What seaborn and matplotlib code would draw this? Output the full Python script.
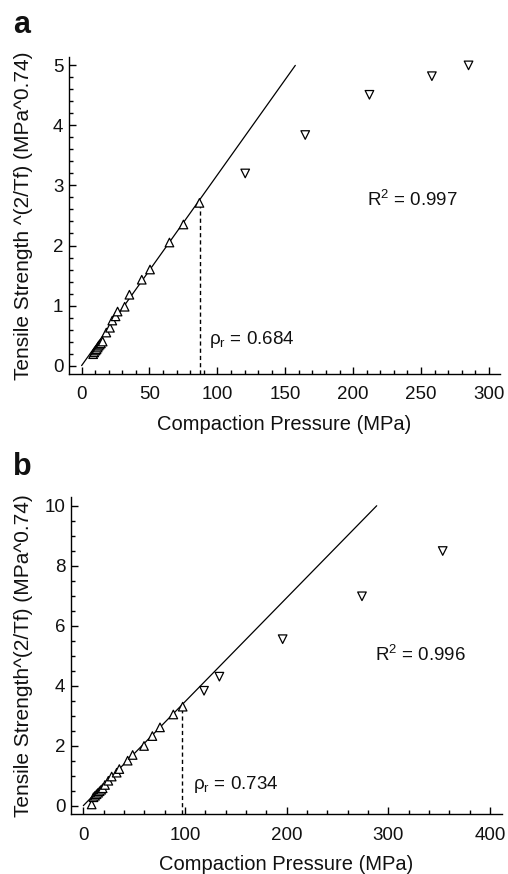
import numpy as np
import pandas as pd
import matplotlib
matplotlib.use("Agg")
import matplotlib.pyplot as plt
from matplotlib.ticker import MultipleLocator
import seaborn as sns

# ---------------- data ----------------
# Panel a
a_up_x = [8.5, 9.3, 10.2, 11.0, 11.8, 12.5, 13.3, 14.2, 15.5, 18.2, 20.9, 22.6, 25.0, 26.5, 31.7, 35.2, 44.3, 50.4, 64.7, 75.0, 86.8]
a_up_y = [0.19, 0.22, 0.25, 0.27, 0.30, 0.33, 0.35, 0.37, 0.40, 0.55, 0.63, 0.75, 0.82, 0.90, 0.98, 1.18, 1.43, 1.60, 2.05, 2.35, 2.71]
a_dn_x = [120.5, 164.7, 212.0, 258.0, 285.0]
a_dn_y = [3.20, 3.84, 4.51, 4.82, 5.00]
a_fit_x = [0.0, 157.4]
a_fit_y = [0.0, 5.0]
a_pr_x = 87.3
a_pr_y = 2.68
a_pr_label = r"$\mathregular{\rho_r}$ = 0.684"
a_r2_label = r"$\mathregular{R^2}$ = 0.997"

# Panel b
b_up_x = [8.2, 10.0, 11.5, 13.0, 14.5, 16.0, 17.5, 19.0, 21.3, 24.6, 27.9, 32.8, 35.4, 43.6, 48.5, 59.7, 67.9, 75.4, 88.5, 97.7]
b_up_y = [0.04, 0.28, 0.33, 0.38, 0.43, 0.48, 0.53, 0.58, 0.69, 0.83, 0.97, 1.10, 1.22, 1.50, 1.69, 1.99, 2.32, 2.61, 3.04, 3.30]
b_dn_x = [118.7, 133.8, 196.0, 274.0, 353.4]
b_dn_y = [3.83, 4.30, 5.55, 6.98, 8.49]
b_fit_x = [0.0, 288.5]
b_fit_y = [0.0, 10.0]
b_pr_x = 96.7
b_pr_y = 3.19
b_pr_label = r"$\mathregular{\rho_r}$ = 0.734"
b_r2_label = r"$\mathregular{R^2}$ = 0.996"

xlabel = "Compaction Pressure (MPa)"
a_ylabel = "Tensile Strength ^(2/Tf) (MPa^0.74)"
b_ylabel = "Tensile Strength^(2/Tf) (MPa^0.74)"

# ---------------- style ----------------
sns.set_style("ticks")
plt.rcParams["font.family"] = ["Liberation Sans", "DejaVu Sans"]
plt.rcParams["mathtext.fontset"] = "custom"
plt.rcParams["mathtext.rm"] = "Liberation Sans"
plt.rcParams["mathtext.it"] = "Liberation Sans:italic"
plt.rcParams["axes.linewidth"] = 1.0
plt.rcParams["axes.edgecolor"] = "black"
plt.rcParams["axes.labelcolor"] = "#111111"
plt.rcParams["text.color"] = "#111111"
plt.rcParams["xtick.color"] = "black"
plt.rcParams["ytick.color"] = "black"
plt.rcParams["xtick.labelcolor"] = "#111111"
plt.rcParams["ytick.labelcolor"] = "#111111"
plt.rcParams["xtick.direction"] = "in"
plt.rcParams["ytick.direction"] = "in"

fig = plt.figure(figsize=(5.08, 8.74), dpi=100)
ax_a = fig.add_axes([0.1358, 0.5721, 0.848, 0.3627])
ax_b = fig.add_axes([0.1398, 0.0686, 0.848, 0.3627])


def draw(ax, up_x, up_y, dn_x, dn_y, fit_x, fit_y, pr_x, pr_y, pr_label, pr_pos,
         r2_label, r2_pos, xlim, ylim, xmaj, xmin, ymaj, ymin, ylabel, ylab_x):
    df = pd.DataFrame({
        "x": list(up_x) + list(dn_x),
        "y": list(up_y) + list(dn_y),
        "kind": ["up"] * len(up_x) + ["down"] * len(dn_x),
    })
    sns.lineplot(x=fit_x, y=fit_y, ax=ax, color="black", linewidth=0.9)
    sns.scatterplot(data=df, x="x", y="y", style="kind",
                    markers={"up": "^", "down": "v"}, s=38,
                    facecolor="white", edgecolor="black", linewidth=0.9,
                    ax=ax, legend=False, zorder=3)
    ax.vlines(pr_x, ylim[0], pr_y, colors="black", linestyles=(0, (3, 2.2)), linewidth=1.0)
    ax.text(pr_pos[0], pr_pos[1], pr_label, fontsize=13.5, va="center", ha="left")
    ax.text(r2_pos[0], r2_pos[1], r2_label, fontsize=13.5, va="center", ha="left")
    ax.set_xlim(*xlim)
    ax.set_ylim(*ylim)
    ax.xaxis.set_major_locator(MultipleLocator(xmaj))
    ax.xaxis.set_minor_locator(MultipleLocator(xmin))
    ax.yaxis.set_major_locator(MultipleLocator(ymaj))
    ax.yaxis.set_minor_locator(MultipleLocator(ymin))
    ax.tick_params(which="major", length=5, width=1, labelsize=13.5)
    ax.tick_params(axis="x", which="major", pad=9)
    ax.tick_params(axis="y", which="major", pad=4)
    ax.tick_params(which="minor", length=3, width=1, bottom=True, left=True)
    for s in ("top", "right"):
        ax.spines[s].set_visible(False)
    ax.set_xlabel(xlabel, fontsize=14.5, labelpad=8)
    ax.set_ylabel(ylabel, fontsize=15)
    ax.yaxis.set_label_coords(ylab_x, 0.5)


draw(ax_a, a_up_x, a_up_y, a_dn_x, a_dn_y, a_fit_x, a_fit_y, a_pr_x, a_pr_y,
     a_pr_label, (94.0, 0.43), a_r2_label, (210.0, 2.76),
     (-9.3, 308.0), (-0.14, 5.14), 50, 10, 1, 0.2, a_ylabel, -0.083)
draw(ax_b, b_up_x, b_up_y, b_dn_x, b_dn_y, b_fit_x, b_fit_y, b_pr_x, b_pr_y,
     b_pr_label, (107.5, 0.69), b_r2_label, (287.0, 5.02),
     (-12.1, 411.5), (-0.28, 10.29), 100, 20, 2, 0.5, b_ylabel, -0.088)

fig.text(13 / 508, 1 - 33 / 874, "a", fontsize=22, fontweight="bold", va="baseline", ha="left")
fig.text(13 / 508, 1 - 475 / 874, "b", fontsize=22, fontweight="bold", va="baseline", ha="left")

fig.savefig("out.png", dpi=100)
